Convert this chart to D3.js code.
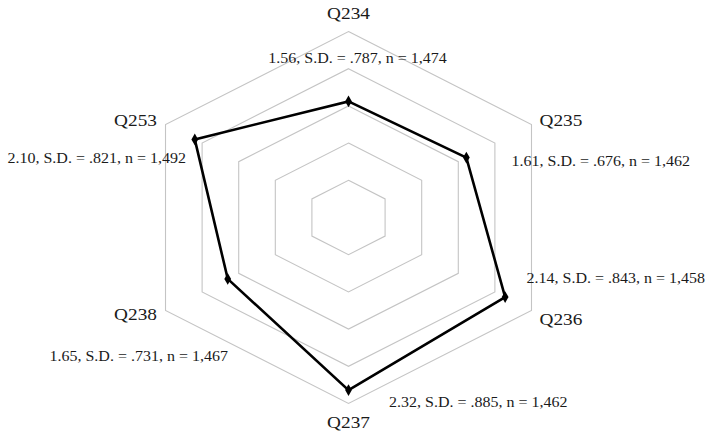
<!DOCTYPE html>
<html>
<head>
<meta charset="utf-8">
<script src="https://cdn.jsdelivr.net/npm/d3@7"></script>
<style>
  html, body { margin: 0; padding: 0; background: #fff; }
  svg { display: block; }
  text { font-family: "Liberation Serif", "Times New Roman", serif; fill: #1a1a1a; }
</style>
</head>
<body>
<svg id="chart" width="707" height="436"></svg>
<script>
// Survey items, mean scores and the summary text printed beside each axis
const categories = ["Q234", "Q235", "Q236", "Q237", "Q238", "Q253"];
const means = [1.56, 1.61, 2.14, 2.32, 1.65, 2.10];
const sds = [".787", ".676", ".843", ".885", ".731", ".821"];
const counts = ["1,474", "1,462", "1,458", "1,462", "1,467", "1,492"];
const ringLevels = [0.5, 1.0, 1.5, 2.0, 2.5];

const svg = d3.select("#chart");
const cx = 348.5, cy = 217.5;
const stretchX = 1.136;           // the plot is wider than a regular hexagon
const r = d3.scaleLinear().domain([0, 2.5]).range([0, 186]);
const angle = d3.scaleLinear().domain([0, categories.length]).range([0, 2 * Math.PI]);

const px = (i, v) => cx + Math.sin(angle(i)) * r(v) * stretchX;
const py = (i, v) => cy - Math.cos(angle(i)) * r(v);

// hexagonal grid rings
const ringLine = d3.line().curve(d3.curveLinearClosed);
svg.append("g").selectAll("path").data(ringLevels).join("path")
  .attr("d", lv => ringLine(categories.map((c, i) => [px(i, lv), py(i, lv)])))
  .attr("fill", "none")
  .attr("stroke", "#c4c4c4")
  .attr("stroke-width", 1.1);

// data polygon
svg.append("path")
  .attr("d", ringLine(means.map((v, i) => [px(i, v), py(i, v)])))
  .attr("fill", "none")
  .attr("stroke", "#000")
  .attr("stroke-width", 2.6)
  .attr("stroke-linejoin", "miter");

// markers
svg.append("g").selectAll("path").data(means).join("path")
  .attr("d", d3.symbol().type(d3.symbolDiamond).size(40))
  .attr("transform", (v, i) => `translate(${px(i, v)},${py(i, v)})`)
  .attr("fill", "#000");

// axis names and summary labels (anchor, x, y of baseline)
const nameLayout = [
  ["middle", 348.5, 19],
  ["start", 539.5, 126],
  ["start", 539.5, 325],
  ["middle", 348.5, 428],
  ["end", 157, 320],
  ["end", 157, 126]
];
const statLayout = [
  ["middle", 357.5, 63],
  ["start", 511.5, 166],
  ["start", 526.5, 283],
  ["start", 389, 407],
  ["end", 228, 361],
  ["end", 186, 163]
];

const labels = svg.append("g");
labels.selectAll("text.name").data(categories).join("text")
  .attr("class", "name")
  .attr("text-anchor", (d, i) => nameLayout[i][0])
  .attr("transform", (d, i) => `translate(${nameLayout[i][1]},${nameLayout[i][2]}) scale(${stretchX},1)`)
  .attr("font-size", 17)
  .text(d => d);

labels.selectAll("text.stat").data(means).join("text")
  .attr("class", "stat")
  .attr("text-anchor", (d, i) => statLayout[i][0])
  .attr("transform", (d, i) => `translate(${statLayout[i][1]},${statLayout[i][2]}) scale(${stretchX},1)`)
  .attr("font-size", 14.1)
  .text((v, i) => `${v.toFixed(2)}, S.D. = ${sds[i]}, n = ${counts[i]}`);
</script>
</body>
</html>
